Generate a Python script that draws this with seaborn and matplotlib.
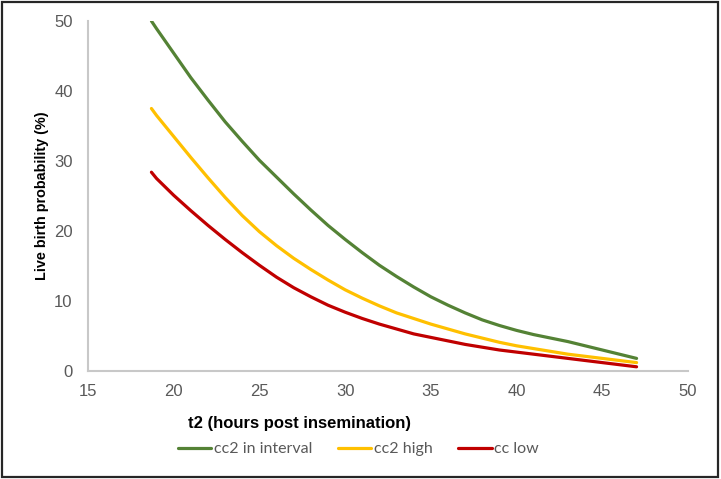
import pandas as pd
import matplotlib
matplotlib.use("Agg")
import matplotlib.pyplot as plt
from matplotlib.patches import Rectangle
import seaborn as sns

# values
t2_hours = [18.7, 19, 20, 21, 22, 23, 24, 25, 26, 27, 28, 29, 30, 31, 32,
            33, 34, 35, 36, 37, 38, 39, 40, 41, 42, 43, 44, 45, 46, 47]
cc2_in_interval = [50.0, 48.9, 45.4, 41.9, 38.7, 35.6, 32.8, 30.1, 27.7, 25.3, 23.0, 20.8, 18.8, 16.9, 15.1,
                   13.5, 12.0, 10.6, 9.4, 8.3, 7.3, 6.5, 5.8, 5.2, 4.7, 4.2, 3.6, 3.0, 2.4, 1.8]
cc2_high = [37.5, 36.5, 33.5, 30.5, 27.6, 24.8, 22.2, 19.9, 17.9, 16.1, 14.5, 13.0, 11.6, 10.4, 9.3,
            8.3, 7.5, 6.7, 6.0, 5.3, 4.7, 4.1, 3.6, 3.2, 2.8, 2.4, 2.1, 1.8, 1.5, 1.2]
cc_low = [28.4, 27.5, 25.1, 22.9, 20.8, 18.8, 16.9, 15.1, 13.4, 11.9, 10.6, 9.4, 8.4, 7.5, 6.7,
          6.0, 5.3, 4.8, 4.3, 3.8, 3.4, 3.0, 2.7, 2.4, 2.1, 1.8, 1.5, 1.2, 0.9, 0.6]

series_names = ["cc2 in interval", "cc2 high", "cc low"]
series_colors = ["#548235", "#FFC000", "#C00000"]

x_ticks = [15, 20, 25, 30, 35, 40, 45, 50]
y_ticks = [0, 10, 20, 30, 40, 50]

# long table for seaborn
frames = []
for name, vals in zip(series_names, [cc2_in_interval, cc2_high, cc_low]):
    frames.append(pd.DataFrame({"t2": t2_hours, "prob": vals, "group": name}))
df = pd.concat(frames, ignore_index=True)

sns.set_style("white")
plt.rcParams["font.family"] = ["Liberation Sans", "DejaVu Sans"]

fig = plt.figure(figsize=(7.21, 4.79), dpi=100)
ax = fig.add_axes([88 / 721, 1 - 371 / 479, 600 / 721, 350 / 479])

sns.lineplot(data=df, x="t2", y="prob", hue="group", hue_order=series_names,
             palette=series_colors, linewidth=2.3, ax=ax, legend=False)

ax.set_xlim(15, 50)
ax.set_ylim(0, 50)
ax.set_xticks(x_ticks)
ax.set_yticks(y_ticks)
ax.tick_params(axis="both", length=0, labelsize=12, labelcolor="#595959")
ax.tick_params(axis="y", pad=11)
ax.tick_params(axis="x", pad=9)

for side in ["top", "right"]:
    ax.spines[side].set_visible(False)
for side in ["left", "bottom"]:
    ax.spines[side].set_color("#c8c8c8")
    ax.spines[side].set_linewidth(1.5)

ax.set_xlabel("t2 (hours post insemination)", fontsize=12, fontweight="bold", color="black")
ax.xaxis.set_label_coords((300 - 88) / 600, -0.128)
ax.set_ylabel("Live birth probability (%)", fontsize=10.4, fontweight="bold",
              color="black", labelpad=4)

# legend below the axes
handles = [plt.Line2D([], [], color=c, linewidth=2.3) for c in series_colors]
fig.legend(handles, series_names, loc="center", bbox_to_anchor=(0.497, 1 - 449 / 479),
           ncol=3, frameon=False, prop={"family": "Lato", "size": 11.5}, labelcolor="#595959",
           handlelength=2.1, handletextpad=0.15, columnspacing=1.6)

# dark frame round the whole picture
fig.patches.append(Rectangle((2 / 721, 2 / 479), 716 / 721, 475 / 479,
                             transform=fig.transFigure, fill=False,
                             edgecolor="#262626", linewidth=1.6))

fig.savefig("out.png", dpi=100)
